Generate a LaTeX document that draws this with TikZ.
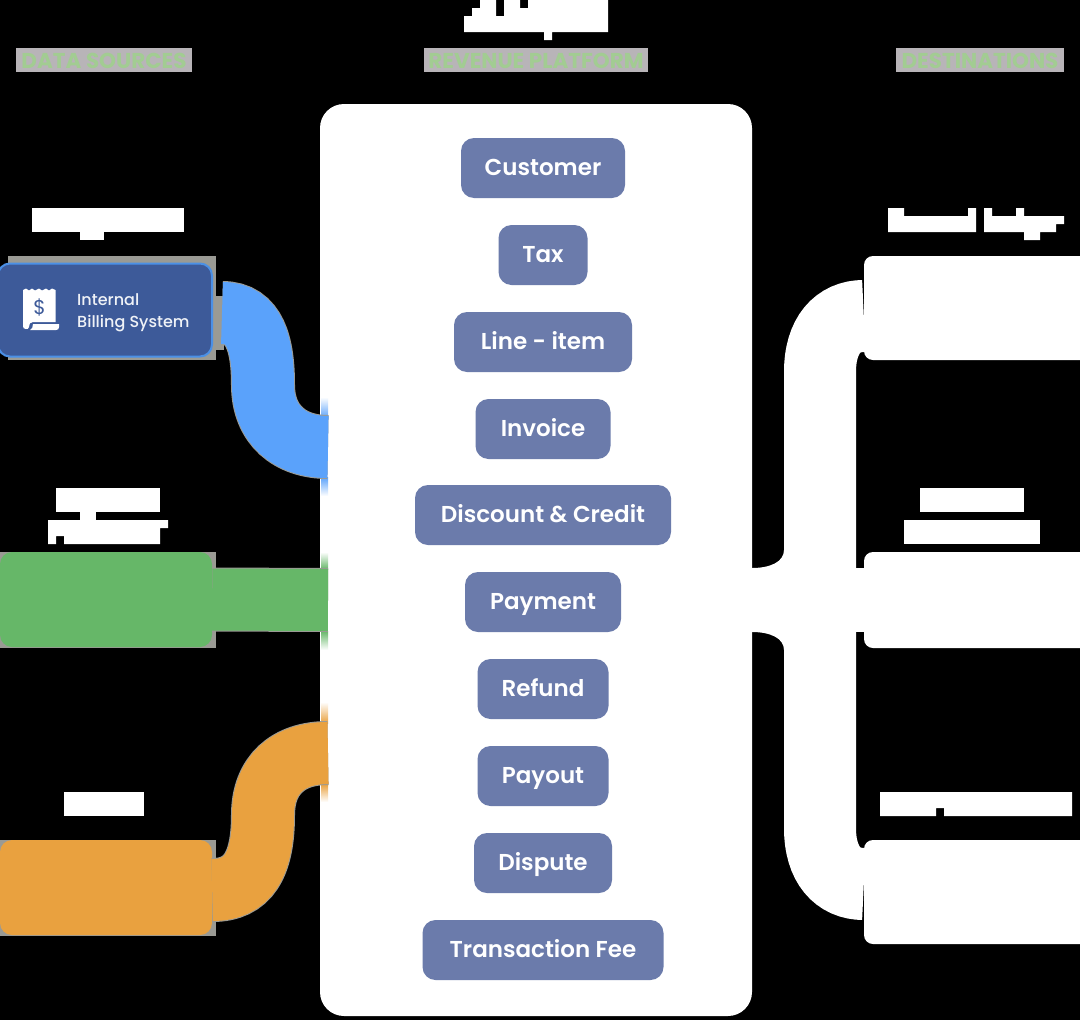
\documentclass[tikz,border=0pt]{standalone}
\usepackage{fontspec}
\setmainfont{Poppins}
\newfontfamily\popsemi{Poppins SemiBold}
\newfontfamily\popmed{Poppins Medium}
\definecolor{pillblue}{HTML}{6B7BAB}
\definecolor{ribblue}{HTML}{5AA2FB}
\definecolor{ribgreen}{HTML}{66B768}
\definecolor{riborange}{HTML}{E9A13F}
\definecolor{navy}{HTML}{3D5A99}
\definecolor{edgeblue}{HTML}{4B90E6}
\definecolor{labelgreen}{HTML}{A2CC92}
\definecolor{labelgrey}{HTML}{B8B4B8}
\definecolor{halo}{HTML}{9A9A94}
\tikzset{
  pill/.style={fill=pillblue,rounded corners=13pt,inner sep=0pt,minimum height=60pt,text height=20pt,text depth=5pt,text=white,font=\popsemi\fontsize{23}{27}\selectfont},
  headlabel/.style={fill=labelgrey,inner sep=0pt,minimum height=24pt,text height=16pt,text depth=0pt,text=labelgreen,font=\bfseries\fontsize{21.5}{24}\selectfont},
  platformbox/.style={fill=white,rounded corners=24pt,inner sep=0pt,minimum width=432pt,minimum height=912pt},
  sourcebox/.style={rounded corners=12pt,inner sep=0pt,minimum height=95pt},
  destbox/.style={fill=white,rounded corners=9pt,inner sep=0pt,minimum width=240pt},
  ribbon/.style={line width=62pt,line cap=butt},
  whiteband/.style={draw=white,line width=72pt,line cap=butt},
  textblock/.style={fill=white},
}
\begin{document}
\begin{tikzpicture}[x=1pt,y=-1pt]
\fill[black] (0,0) rectangle (1080,1020);
\useasboundingbox (0,0) rectangle (1080,1020);

% illegible white titles, as blocks
\fill[textblock] (464,32) -- (464,16) -- (472,16) -- (472,8) -- (480,8) -- (480,0) -- (496,0) -- (496,16) -- (504,16) -- (504,0) -- (520,0) -- (520,8) -- (528,8) -- (528,0) -- (608,0) -- (608,32) -- (552,32) -- (552,40) -- (544,40) -- (544,32) -- cycle;
\fill[textblock] (32,208) rectangle (184,232);
\fill[textblock] (80,232) rectangle (104,240);
\fill[textblock] (56,488) rectangle (160,512);
\fill[textblock] (80,512) rectangle (96,520);
\fill[textblock] (48,520) -- (168,520) -- (168,528) -- (160,528) -- (160,544) -- (64,544) -- (64,536) -- (56,536) -- (56,544) -- (48,544) -- cycle;
\fill[textblock] (64,792) rectangle (144,816);
\fill[textblock] (888,208) -- (904,208) -- (904,216) -- (968,216) -- (968,208) -- (976,208) -- (976,232) -- (888,232) -- cycle;
\fill[textblock] (984,208) -- (992,208) -- (992,216) -- (1016,216) -- (1016,208) -- (1024,208) -- (1024,216) -- (1064,216) -- (1064,224) -- (1056,224) -- (1056,232) -- (1040,232) -- (1040,240) -- (1024,240) -- (1024,232) -- (984,232) -- cycle;
\fill[textblock] (920,488) rectangle (1024,512);
\fill[textblock] (904,520) rectangle (1040,544);
\fill[textblock] (880,792) -- (1072,792) -- (1072,816) -- (944,816) -- (944,808) -- (936,808) -- (936,816) -- (880,816) -- cycle;

% header labels
\node[headlabel,minimum width=176pt] (hsrc) at (104,60) {DATA SOURCES};
\node[headlabel,minimum width=224pt] (hplat) at (536,60) {REVENUE PLATFORM};
\node[headlabel,minimum width=168pt] (hdest) at (980,60) {DESTINATIONS};

% platform
\node[platformbox] (platform) at (536,560) {};
\shade[top color=white,bottom color=ribblue] (321,397) rectangle (328,418);
\shade[top color=ribblue,bottom color=white] (321,477) rectangle (328,496);
\shade[top color=white,bottom color=ribgreen] (321,552) rectangle (328,569);
\shade[top color=ribgreen,bottom color=white] (321,631) rectangle (328,650);
\shade[top color=white,bottom color=riborange] (321,702) rectangle (328,723);
\shade[top color=riborange,bottom color=white] (321,784) rectangle (328,802);

% halos and source boxes
\fill[halo] (8,256) rectangle (216,360);
\fill[halo] (216,296) rectangle (224,350);
\fill[halo] (0,552) rectangle (216,648);
\fill[halo] (0,840) rectangle (216,936);

\coordinate (blueStart) at (222,313);
\coordinate (blueEnd) at (328,447);
\coordinate (greenEnd) at (328,600);
\coordinate (orangeEnd) at (328,753);

\node[sourcebox,fill=navy,draw=edgeblue,line width=2pt,minimum width=214pt,minimum height=93pt] (billing) at (105,310) {};
\node[sourcebox,fill=ribgreen,minimum width=212pt] (payproc) at (106,599.5) {};
\node[sourcebox,fill=riborange,minimum width=212pt] (erp) at (106,887.5) {};

% ribbons
\draw[ribbon,draw=ribblue,preaction={draw=halo,line width=64pt}] (blueStart) .. controls (255,313) and (263,345) .. (263,385) .. controls (263,425) and (290,447) .. (blueEnd);
\draw[ribbon,draw=ribgreen,preaction={draw=halo,line width=64pt}] (payproc.east) -- (greenEnd);
\draw[ribbon,draw=riborange,preaction={draw=halo,line width=64pt}] (erp.east |- 0,890) .. controls (248,890) and (263,865) .. (263,815) .. controls (263,775) and (288,753) .. (orangeEnd);

% receipt icon
\fill[white] (23,290) -- (26,288.5) -- (29,290.5) -- (32,288.5) -- (35,290.5) -- (39,288.5) -- (42,290.5) -- (46,288.5) -- (49,290.5) -- (52,288.5) -- (55.5,290) -- (55.5,322) -- (33,322) .. controls (30,322) and (29,324) .. (29,327) .. controls (29,329) and (27,329) .. (26,329) .. controls (24,329) and (23,328) .. (23,326) -- cycle;
\fill[white] (33,324) -- (59,324) -- (59,327) .. controls (59,329) and (58,330) .. (56,330) -- (30,330) .. controls (32,329) and (33,327) .. (33,324) -- cycle;
\node[inner sep=0pt,text=navy,font=\fontsize{20}{24}\selectfont] (dollar) at (39.5,307) {\$};
\node[anchor=west,inner sep=0pt,text=white!92!navy,font=\popmed\fontsize{16}{22}\selectfont,align=left] (billtext) at (77,312.5) {Internal\\Billing System};

% destinations and white connectors
\node[destbox,minimum height=104pt] (ledger) at (984,308) {};
\node[destbox,minimum height=96pt] (warehouse) at (984,600) {};
\node[destbox,minimum height=104pt] (reporting) at (984,892) {};
\draw[whiteband] (ledger.west |- 0,316) .. controls (838,316) and (820,335) .. (820,372) -- (820,828) .. controls (820,865) and (838,884) .. (reporting.west |- 0,884);
\draw[draw=white,line width=64pt,line cap=butt] (platform.east |- warehouse.west) -- (warehouse.west);
\fill[white] (752,568) .. controls (770,568) and (784,562) .. (784,550) -- (800,550) -- (800,650) -- (784,650) .. controls (784,638) and (770,632) .. (752,632) -- cycle;

% platform entries
\node[pill,minimum width=164pt] (p1) at (543,168) {Customer};
\node[pill,minimum width=89pt] (p2) at (543,255) {Tax};
\node[pill,minimum width=178pt] (p3) at (543,342) {Line - item};
\node[pill,minimum width=135pt] (p4) at (543,429) {Invoice};
\node[pill,minimum width=256pt] (p5) at (543,515) {Discount \& Credit};
\node[pill,minimum width=156pt] (p6) at (543,602) {Payment};
\node[pill,minimum width=131pt] (p7) at (543,689) {Refund};
\node[pill,minimum width=131pt] (p8) at (543,776) {Payout};
\node[pill,minimum width=138pt] (p9) at (543,863) {Dispute};
\node[pill,minimum width=241pt] (p10) at (543,950) {Transaction Fee};
\end{tikzpicture}
\end{document}
